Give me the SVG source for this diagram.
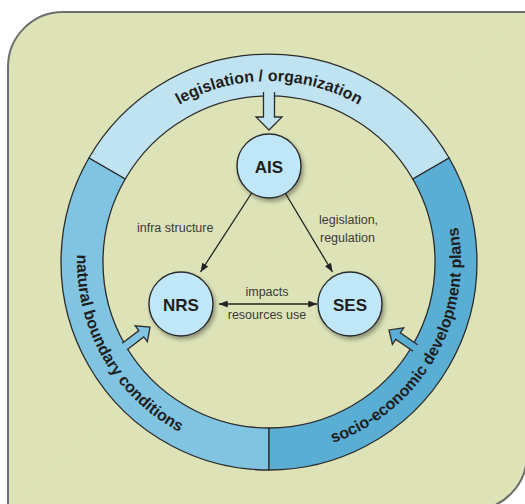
<svg xmlns="http://www.w3.org/2000/svg" width="525" height="504" viewBox="0 0 525 504">
<style>
.seg{stroke:#2b2b2b;stroke-width:1.3;stroke-linejoin:round}
.ring{font-family:"Liberation Sans",Arial,sans-serif;font-weight:bold;font-size:16px;fill:#1e1e1e}
.node circle{fill:#bfe7f8;stroke:#2b2b2b;stroke-width:1.4;filter:url(#sh)}
.node text{font-family:"Liberation Sans",Arial,sans-serif;font-weight:bold;font-size:17px;fill:#1e1e1e;text-anchor:middle}
.lbl{font-family:"Liberation Sans",Arial,sans-serif;font-size:12.5px;fill:#3a3a3a}
.conn{stroke:#222;stroke-width:1.3;fill:none}
.bo{stroke:#2b2b2b;stroke-width:1.3;fill:none;stroke-linejoin:miter}
</style>
<defs>
<filter id="sh" x="-30%" y="-30%" width="170%" height="170%">
<feDropShadow dx="2" dy="3" stdDeviation="2" flood-color="#000" flood-opacity="0.35"/>
</filter>
<marker id="ah" viewBox="0 0 10 8" refX="10" refY="4" markerWidth="9" markerHeight="7" markerUnits="userSpaceOnUse" orient="auto-start-reverse">
<path d="M0,0 L10,4 L0,8 Z" fill="#222"/>
</marker>
<path id="tp-top" d="M88,262 A181,181 0 1 1 450,262"/>
<path id="tp-ccw" d="M269,70 A192,192 0 1 0 269,454 A192,192 0 1 0 269,70"/>
</defs>

<path d="M8,512 L8,67 A55,55 0 0 1 63,12 L530,12 L530,455" fill="#dde3b7" stroke="#6e6e6e" stroke-width="2"/>
<path d="M527,12 L527,455 A55,55 0 0 1 472,510 L8,510" fill="#dde3b7" stroke="none"/>
<path d="M527,440 L527,455 A55,55 0 0 1 472,510 L460,510" fill="none" stroke="#6e6e6e" stroke-width="2"/>

<g id="ring">
<path class="seg" fill="#c0e3f2" d="M88.9,158 A208,208 0 0 1 449.1,158 L412.8,179 A166,166 0 0 0 125.2,179 Z"/>
<path class="seg" fill="#80c4e1" d="M88.9,158 A208,208 0 0 0 269,470 L269,428 A166,166 0 0 1 125.2,179 Z"/>
<path class="seg" fill="#5aadd3" d="M269,470 A208,208 0 0 0 449.1,158 L412.8,179 A166,166 0 0 1 269,428 Z"/>
<text class="ring"><textPath href="#tp-top" startOffset="50%" text-anchor="middle">legislation / organization</textPath></text>
<text class="ring"><textPath href="#tp-ccw" startOffset="33.33%" text-anchor="middle">natural boundary conditions</textPath></text>
<text class="ring"><textPath href="#tp-ccw" startOffset="66.67%" text-anchor="middle">socio-economic development plans</textPath></text>
</g>

<g id="inputs">
<g transform="translate(269,92) rotate(90)">
<path d="M0,-5.5 L25,-5.5 L25,-13 L38,0 L25,13 L25,5.5 L0,5.5 Z" fill="#c0e3f2"/>
<path class="bo" d="M0,-5.5 L25,-5.5 L25,-13 L38,0 L25,13 L25,5.5 L0,5.5"/>
</g>
<g transform="translate(124.6,346.5) rotate(-37.4)">
<path d="M0,-4 L21,-4 L21,-10 L32,0 L21,10 L21,4 L0,4 Z" fill="#80c4e1"/>
<path class="bo" d="M0,-4 L21,-4 L21,-10 L32,0 L21,10 L21,4 L0,4"/>
</g>
<g transform="translate(415.4,348) rotate(-145.7)">
<path d="M0,-4 L21,-4 L21,-10 L32,0 L21,10 L21,4 L0,4 Z" fill="#5aadd3"/>
<path class="bo" d="M0,-4 L21,-4 L21,-10 L32,0 L21,10 L21,4 L0,4"/>
</g>
</g>

<g id="connectors">
<line class="conn" x1="251.7" y1="193" x2="200.5" y2="272" marker-end="url(#ah)"/>
<line class="conn" x1="285.5" y1="193.5" x2="332.5" y2="272" marker-end="url(#ah)"/>
<line class="conn" x1="219" y1="304" x2="317" y2="304" marker-start="url(#ah)" marker-end="url(#ah)"/>
<text class="lbl" x="137" y="232">infra structure</text>
<text class="lbl" x="319" y="224">legislation,</text>
<text class="lbl" x="320" y="242">regulation</text>
<text class="lbl" x="267" y="296" text-anchor="middle">impacts</text>
<text class="lbl" x="267" y="319" text-anchor="middle">resources use</text>
</g>

<g id="AIS" class="node"><circle cx="269" cy="166" r="32"/><text x="269" y="172.5">AIS</text></g>
<g id="NRS" class="node"><circle cx="181" cy="304" r="32"/><text x="181" y="310.5">NRS</text></g>
<g id="SES" class="node"><circle cx="350" cy="304" r="32"/><text x="350" y="310.5">SES</text></g>
</svg>
